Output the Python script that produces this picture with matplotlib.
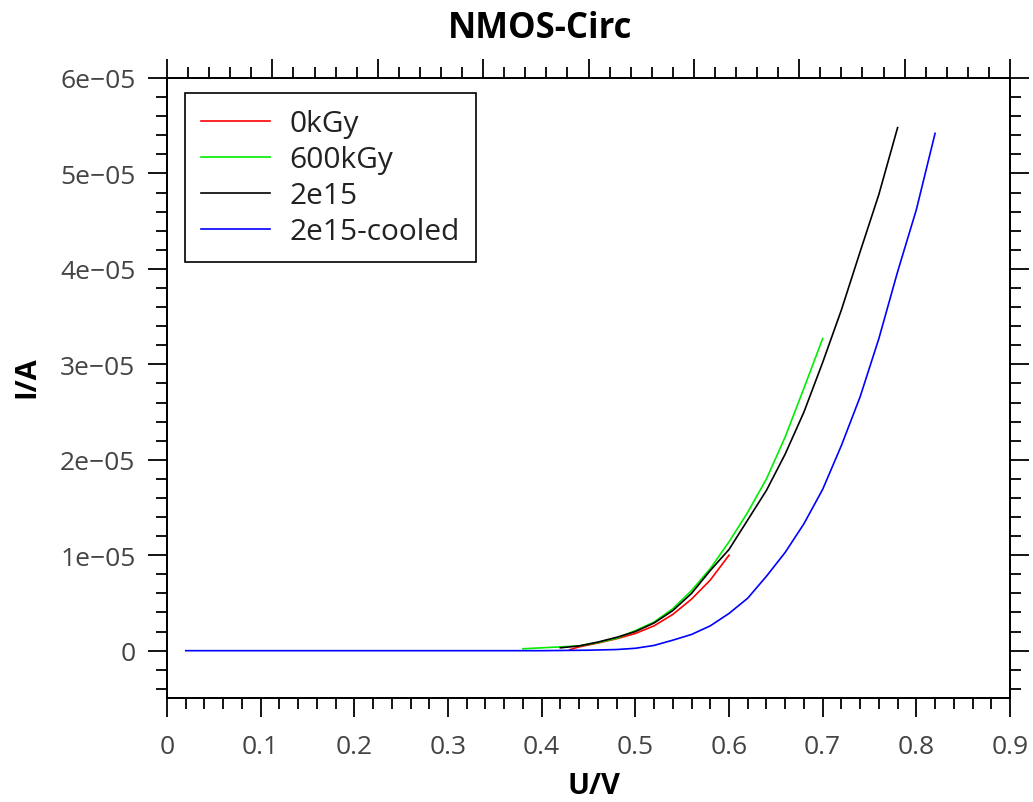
import numpy as np
import matplotlib
matplotlib.use("Agg")
import matplotlib.pyplot as plt
from matplotlib.ticker import MultipleLocator, FixedLocator, FuncFormatter, NullFormatter

plt.rcParams['font.family'] = ['Open Sans', 'DejaVu Sans']

# ---------------- data ----------------
title = "NMOS-Circ"
x_label = "U/V"
y_label = "I/A"
series_names = ["0kGy", "600kGy", "2e15", "2e15-cooled"]
series_colors = ["#ff0000", "#00ee00", "#000000", "#0000ff"]

u_0kGy = [0.43, 0.44, 0.46, 0.48, 0.50, 0.52, 0.54, 0.56, 0.58, 0.60]
i_0kGy = [0.01e-5, 0.04e-5, 0.08e-5, 0.125e-5, 0.18e-5, 0.26e-5, 0.38e-5, 0.54e-5, 0.74e-5, 1.00e-5]

u_600kGy = [0.38, 0.40, 0.42, 0.44, 0.46, 0.48, 0.50, 0.52, 0.54, 0.56, 0.58,
            0.60, 0.62, 0.64, 0.66, 0.68, 0.70]
i_600kGy = [0.02e-5, 0.03e-5, 0.04e-5, 0.05e-5, 0.085e-5, 0.13e-5, 0.21e-5, 0.30e-5,
            0.44e-5, 0.63e-5, 0.86e-5, 1.14e-5, 1.45e-5, 1.80e-5, 2.24e-5, 2.75e-5, 3.27e-5]

u_2e15 = [0.42, 0.44, 0.46, 0.48, 0.50, 0.52, 0.54, 0.56, 0.58, 0.60, 0.62,
          0.64, 0.66, 0.68, 0.70, 0.72, 0.74, 0.76, 0.78]
i_2e15 = [0.03e-5, 0.05e-5, 0.09e-5, 0.14e-5, 0.20e-5, 0.29e-5, 0.42e-5, 0.60e-5,
          0.84e-5, 1.06e-5, 1.37e-5, 1.68e-5, 2.06e-5, 2.50e-5, 3.02e-5, 3.57e-5,
          4.18e-5, 4.78e-5, 5.48e-5]

u_2e15_cooled = [0.02, 0.10, 0.20, 0.30, 0.40, 0.45, 0.48, 0.50, 0.52, 0.54, 0.56,
                 0.58, 0.60, 0.62, 0.64, 0.66, 0.68, 0.70, 0.72, 0.74, 0.76, 0.78,
                 0.80, 0.82]
i_2e15_cooled = [0.0, 0.0, 0.0, 0.0, 0.0, 0.005e-5, 0.012e-5, 0.025e-5, 0.055e-5,
                 0.11e-5, 0.17e-5, 0.26e-5, 0.39e-5, 0.55e-5, 0.78e-5, 1.03e-5,
                 1.33e-5, 1.69e-5, 2.15e-5, 2.66e-5, 3.27e-5, 3.97e-5, 4.62e-5, 5.42e-5]

x_min, x_max = 0.0, 0.9
y_min, y_max = -5e-6, 6e-5

# ---------------- figure ----------------
W, H = 1033, 803
fig = plt.figure(figsize=(W / 100, H / 100), dpi=100)
ax_l, ax_r, ax_t, ax_b = 167, 1010, 79, 699.4
ax = fig.add_axes([ax_l / W, (H - ax_b) / H, (ax_r - ax_l) / W, (ax_b - ax_t) / H])

xs = [u_0kGy, u_600kGy, u_2e15, u_2e15_cooled]
ys = [i_0kGy, i_600kGy, i_2e15, i_2e15_cooled]
for x, y, name, c in zip(xs, ys, series_names, series_colors):
    ax.plot(x, y, color=c, lw=1.2, label=name)

ax.set_xlim(x_min, x_max)
ax.set_ylim(y_min, y_max)

ax.xaxis.set_major_locator(MultipleLocator(0.1))
ax.xaxis.set_minor_locator(MultipleLocator(0.02))
ax.yaxis.set_major_locator(MultipleLocator(1e-5))
ax.yaxis.set_minor_locator(MultipleLocator(2e-6))


def xfmt(v, pos):
    return f"{round(v, 2):g}"


def yfmt(v, pos):
    if abs(v) < 1e-12:
        return "0"
    return f"{v:.0e}".replace("-", "\u2212")


ax.xaxis.set_major_formatter(FuncFormatter(xfmt))
ax.yaxis.set_major_formatter(FuncFormatter(yfmt))

tick_col = "#444444"
ax.tick_params(which='both', direction='out', width=1.3, colors='black',
               labelcolor=tick_col, labelsize=19, top=False, right=True)
ax.tick_params(which='major', length=13.7)
ax.tick_params(which='minor', length=7.6)
ax.tick_params(axis='x', which='major', pad=12)
ax.tick_params(axis='y', which='major', pad=9)
ax.tick_params(axis='y', labelright=False)

for s in ax.spines.values():
    s.set_linewidth(1.3)

# top axis with its own tick spacing
top = ax.twiny()
top.set_xlim(x_min, x_max)
top.xaxis.set_major_locator(FixedLocator(np.linspace(x_min, x_max, 9)))
top.xaxis.set_minor_locator(FixedLocator(np.linspace(x_min, x_max, 41)))
top.xaxis.set_major_formatter(NullFormatter())
top.tick_params(which='both', direction='out', width=1.3)
top.tick_params(which='major', length=13.7)
top.tick_params(which='minor', length=7.6)
for s in top.spines.values():
    s.set_linewidth(1.3)

ax.set_xlabel(x_label, fontsize=21, fontweight='bold', va='center')
ax.xaxis.set_label_coords(0.507, -0.141)
ax.set_ylabel(y_label, fontsize=21, fontweight='bold', va='center')
ax.yaxis.set_label_coords(-0.166, 0.519)

fig.text(540 / W, 1 - 29 / H, title, fontsize=25, fontweight='bold',
         ha='center', va='center')

leg = ax.legend(loc='upper left', bbox_to_anchor=(18 / 843, 1 - 15 / 620.4),
                borderaxespad=0, fontsize=21.5, frameon=True, fancybox=False,
                framealpha=1, edgecolor='black', handlelength=2.3,
                handletextpad=0.65, labelspacing=0.23, borderpad=0.55)
leg.get_frame().set_linewidth(1.2)
for t in leg.get_texts():
    t.set_color('#222222')

fig.savefig("out.png", dpi=100)
